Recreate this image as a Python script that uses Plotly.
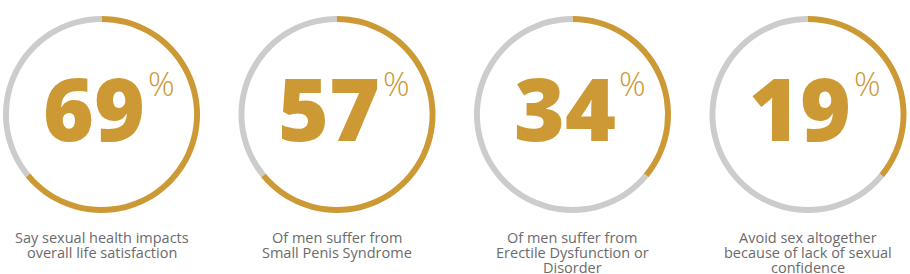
import plotly.graph_objects as go

# ---- data ----
stat_values = [69, 57, 34, 19]          # printed percentages
arc_share = [64, 64, 36, 36]            # gold share of each ring as drawn
captions = [
    ["Say sexual health impacts", "overall life satisfaction"],
    ["Of men suffer from", "Small Penis Syndrome"],
    ["Of men suffer from", "Erectile Dysfunction or", "Disorder"],
    ["Avoid sex altogether", "because of lack of sexual", "confidence"],
]

GOLD = "#CD9935"
GREY = "#CCCCCC"
TEXT = "#6B6B6B"

W, H = 910, 274
first_cx, step, cy = 101.5, 235.5, 114.5
R = 98.5

fig = go.Figure()
annotations = []
for i, (v, a, cap) in enumerate(zip(stat_values, arc_share, captions)):
    cx = first_cx + i * step
    fig.add_trace(go.Pie(
        values=[a, 100 - a],
        marker=dict(colors=[GOLD, GREY], line=dict(width=0)),
        hole=0.94, sort=False, direction="clockwise", rotation=0,
        textinfo="none", hoverinfo="skip", showlegend=False,
        domain=dict(x=[(cx - R) / W, (cx + R) / W],
                    y=[(H - cy - R) / H, (H - cy + R) / H]),
    ))
    annotations.append(dict(
        x=cx + 44, y=141 - 0.388 * 87, xref="x", yref="y",
        text=str(v), showarrow=False, xanchor="right", yanchor="middle",
        borderpad=0,
        font=dict(family="Open Sans", size=87, color=GOLD, weight=800),
    ))
    annotations.append(dict(
        x=cx + 45, y=96 - 0.388 * 33, xref="x", yref="y",
        text="%", showarrow=False, xanchor="left", yanchor="middle",
        borderpad=0,
        font=dict(family="Open Sans", size=33, color=GOLD, weight=300),
    ))
    for j, line in enumerate(cap):
        annotations.append(dict(
            x=cx, y=243.5 + j * 14.8 - 0.388 * 14.5, xref="x", yref="y",
            text=line, showarrow=False, xanchor="center", yanchor="middle",
            borderpad=0,
            font=dict(family="Open Sans", size=14.5, color=TEXT),
        ))

fig.update_layout(
    width=W, height=H, margin=dict(l=0, r=0, t=0, b=0),
    paper_bgcolor="white", plot_bgcolor="white",
    xaxis=dict(range=[0, W], visible=False, fixedrange=True),
    yaxis=dict(range=[H, 0], visible=False, fixedrange=True),
    annotations=annotations,
)
fig.write_html("out.html")
